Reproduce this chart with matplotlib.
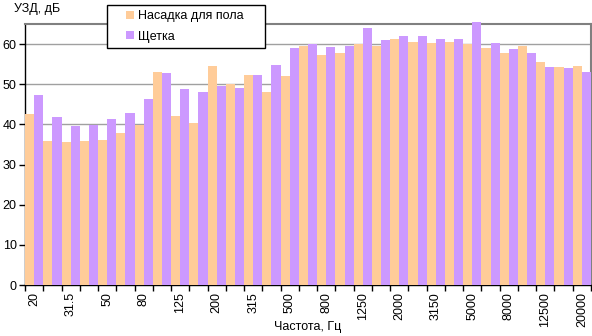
import matplotlib
matplotlib.use("Agg")
import matplotlib.pyplot as plt
from matplotlib.patches import Rectangle
import numpy as np

categories = ["20", "25", "31.5", "40", "50", "63", "80", "100", "125", "160", "200",
              "250", "315", "400", "500", "630", "800", "1000", "1250", "1600", "2000",
              "2500", "3150", "4000", "5000", "6300", "8000", "10000", "12500", "16000", "20000"]
nozzle = [42.6, 35.9, 35.6, 35.9, 36.1, 37.9, 39.9, 53.1, 42.1, 40.4, 54.6,
          50.1, 52.3, 48.1, 52.1, 59.5, 57.3, 57.8, 60.0, 59.5, 61.3,
          60.5, 60.3, 60.5, 60.0, 59.0, 57.8, 59.5, 55.5, 54.3, 54.6]
brush = [47.3, 41.9, 39.6, 39.9, 41.4, 42.9, 46.3, 52.8, 48.8, 48.1, 49.6,
         49.1, 52.3, 54.8, 59.1, 60.0, 59.3, 59.5, 64.0, 61.0, 62.0,
         62.0, 61.3, 61.3, 65.5, 60.3, 58.8, 57.8, 54.3, 54.0, 53.1]
series_names = ["Насадка для пола", "Щетка"]
y_label = "УЗД, дБ"
x_label = "Частота, Гц"

plt.rcParams['font.family'] = ['Liberation Sans', 'DejaVu Sans']
fig = plt.figure(figsize=(5.92, 3.36), dpi=100)
W, H = 592, 336
L, R, T, B = 25, 591, 24, 285
ax = fig.add_axes([L / W, 1 - B / H, (R - L) / W, (B - T) / H])

x = np.arange(len(categories))
w = 0.5
b1 = ax.bar(x - w / 2, nozzle, width=w, color="#FFCC99", label=series_names[0], clip_on=False, zorder=3)
b2 = ax.bar(x + w / 2, brush, width=w, color="#CC99FF", label=series_names[1], clip_on=False, zorder=3)

ax.set_xlim(-0.5, len(categories) - 0.5)
ax.set_ylim(0, 65)
ax.set_yticks(np.arange(0, 61, 10))
ax.yaxis.grid(True, color="#A0A0A0", linewidth=1.0, zorder=0)
ax.set_axisbelow(True)

ax.set_xticks(x[::2])
ax.set_xticklabels(categories[::2], rotation=90, fontsize=9)
ax.set_xticks(np.arange(-0.5, len(categories), 1), minor=True)
ax.tick_params(axis='x', which='major', length=0, pad=5)
ax.tick_params(axis='x', which='minor', length=4, width=1, color='black', direction='out')
ax.tick_params(axis='y', length=4, width=1, color='black', direction='out', labelsize=9, pad=2)

for s in ['left', 'bottom']:
    ax.spines[s].set_color('black')
    ax.spines[s].set_linewidth(1)
for s in ['top', 'right']:
    ax.spines[s].set_color('#808080')
    ax.spines[s].set_linewidth(1.5)

fig.text(14 / W, 1 - 9 / H, y_label, fontsize=9, va='center', ha='left')
fig.text(308 / W, 1 - 327 / H, x_label, fontsize=9, va='center', ha='center')

# legend box
box = Rectangle((107 / W, 1 - 48 / H), (265 - 107) / W, 43 / H, transform=fig.transFigure,
                facecolor='white', edgecolor='black', linewidth=1, zorder=9)
fig.patches.append(box)
leg = fig.legend(handles=[b1, b2], loc='center left', bbox_to_anchor=(126 / W, 1 - 26.5 / H),
                 frameon=False, fontsize=9,
                 borderaxespad=0, borderpad=0, handlelength=0.6, handleheight=0.6,
                 handletextpad=0.35, labelspacing=0.66)
leg.set_zorder(10)

fig.savefig("out.png", dpi=100)
